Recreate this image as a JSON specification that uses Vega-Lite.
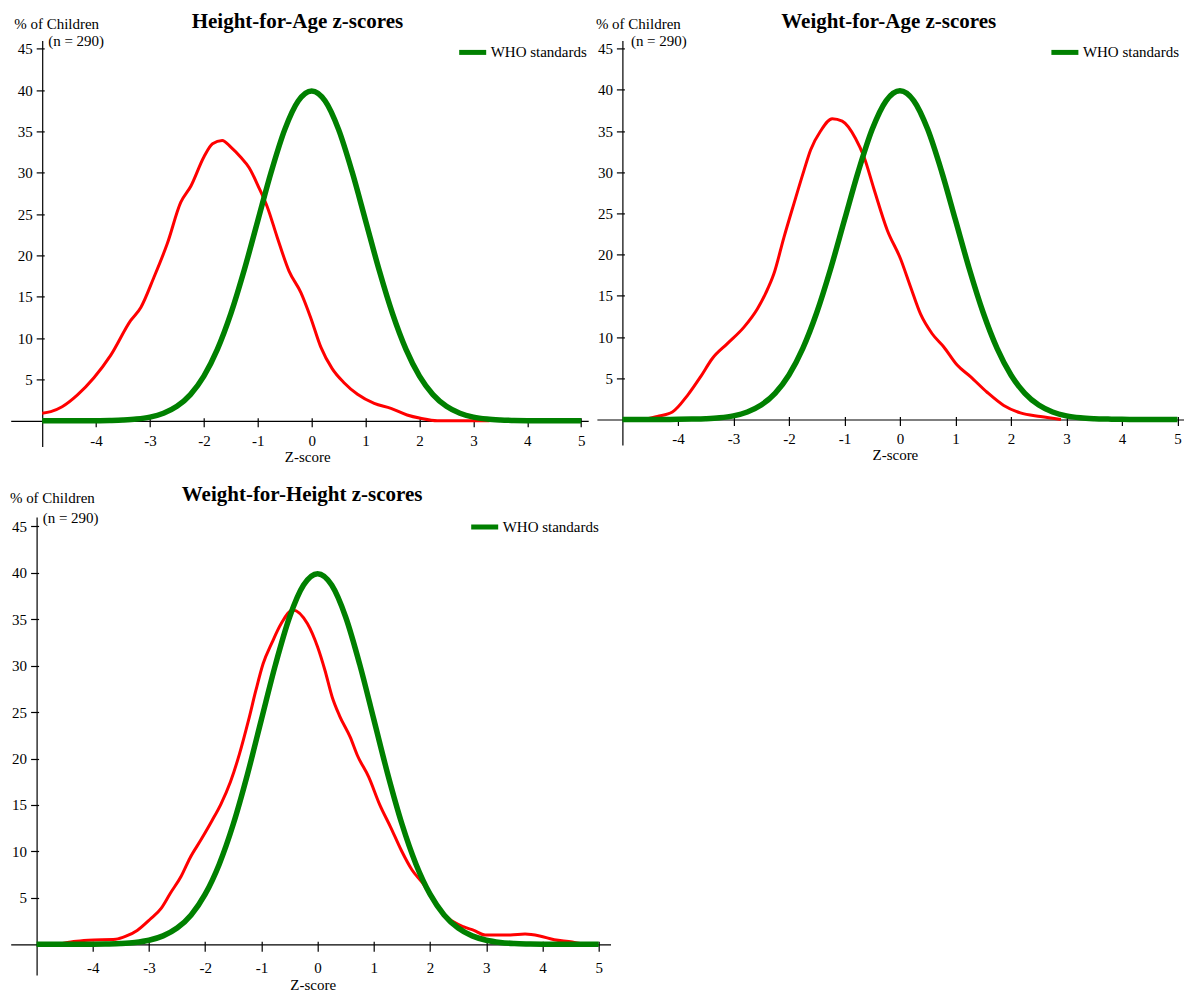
{
  "$schema": "https://vega.github.io/schema/vega-lite/v6.json",
  "background": "white",
  "padding": {"left": 8.7, "top": 10.4, "right": 0, "bottom": 0},
  "datasets": {
    "who": [
      {"z": -5, "pct": 0, "series": "WHO standards"},
      {"z": -4.75, "pct": 0, "series": "WHO standards"},
      {"z": -4.5, "pct": 0, "series": "WHO standards"},
      {"z": -4.25, "pct": 0, "series": "WHO standards"},
      {"z": -4, "pct": 0.01, "series": "WHO standards"},
      {"z": -3.75, "pct": 0.04, "series": "WHO standards"},
      {"z": -3.5, "pct": 0.09, "series": "WHO standards"},
      {"z": -3.25, "pct": 0.2, "series": "WHO standards"},
      {"z": -3, "pct": 0.44, "series": "WHO standards"},
      {"z": -2.75, "pct": 0.91, "series": "WHO standards"},
      {"z": -2.5, "pct": 1.75, "series": "WHO standards"},
      {"z": -2.25, "pct": 3.17, "series": "WHO standards"},
      {"z": -2, "pct": 5.4, "series": "WHO standards"},
      {"z": -1.75, "pct": 8.63, "series": "WHO standards"},
      {"z": -1.5, "pct": 12.95, "series": "WHO standards"},
      {"z": -1.25, "pct": 18.26, "series": "WHO standards"},
      {"z": -1, "pct": 24.2, "series": "WHO standards"},
      {"z": -0.75, "pct": 30.11, "series": "WHO standards"},
      {"z": -0.5, "pct": 35.21, "series": "WHO standards"},
      {"z": -0.25, "pct": 38.67, "series": "WHO standards"},
      {"z": 0, "pct": 39.89, "series": "WHO standards"},
      {"z": 0.25, "pct": 38.67, "series": "WHO standards"},
      {"z": 0.5, "pct": 35.21, "series": "WHO standards"},
      {"z": 0.75, "pct": 30.11, "series": "WHO standards"},
      {"z": 1, "pct": 24.2, "series": "WHO standards"},
      {"z": 1.25, "pct": 18.26, "series": "WHO standards"},
      {"z": 1.5, "pct": 12.95, "series": "WHO standards"},
      {"z": 1.75, "pct": 8.63, "series": "WHO standards"},
      {"z": 2, "pct": 5.4, "series": "WHO standards"},
      {"z": 2.25, "pct": 3.17, "series": "WHO standards"},
      {"z": 2.5, "pct": 1.75, "series": "WHO standards"},
      {"z": 2.75, "pct": 0.91, "series": "WHO standards"},
      {"z": 3, "pct": 0.44, "series": "WHO standards"},
      {"z": 3.25, "pct": 0.2, "series": "WHO standards"},
      {"z": 3.5, "pct": 0.09, "series": "WHO standards"},
      {"z": 3.75, "pct": 0.04, "series": "WHO standards"},
      {"z": 4, "pct": 0.01, "series": "WHO standards"},
      {"z": 4.25, "pct": 0, "series": "WHO standards"},
      {"z": 4.5, "pct": 0, "series": "WHO standards"},
      {"z": 4.75, "pct": 0, "series": "WHO standards"},
      {"z": 5, "pct": 0, "series": "WHO standards"}
    ],
    "hfa": [
      {"z": -5.0, "pct": 0.9}, {"z": -4.84, "pct": 1.1}, {"z": -4.63, "pct": 1.7},
      {"z": -4.35, "pct": 3.1}, {"z": -4.04, "pct": 5.2}, {"z": -3.73, "pct": 7.9},
      {"z": -3.36, "pct": 12.1}, {"z": -3.17, "pct": 13.7}, {"z": -2.93, "pct": 17.3},
      {"z": -2.68, "pct": 21.4}, {"z": -2.43, "pct": 26.4}, {"z": -2.24, "pct": 28.4},
      {"z": -2.0, "pct": 31.9}, {"z": -1.84, "pct": 33.5}, {"z": -1.66, "pct": 33.9},
      {"z": -1.5, "pct": 33.1}, {"z": -1.32, "pct": 31.9}, {"z": -1.16, "pct": 30.6},
      {"z": -0.98, "pct": 28.2}, {"z": -0.82, "pct": 25.8}, {"z": -0.64, "pct": 22.2},
      {"z": -0.42, "pct": 18.1}, {"z": -0.2, "pct": 15.5}, {"z": -0.02, "pct": 12.5},
      {"z": 0.17, "pct": 8.9}, {"z": 0.38, "pct": 6.3}, {"z": 0.6, "pct": 4.6},
      {"z": 0.85, "pct": 3.2}, {"z": 1.16, "pct": 2.1}, {"z": 1.47, "pct": 1.5},
      {"z": 1.77, "pct": 0.7}, {"z": 2.02, "pct": 0.3}, {"z": 2.33, "pct": 0},
      {"z": 3.3, "pct": 0}
    ],
    "wfa": [
      {"z": -4.6, "pct": 0}, {"z": -4.37, "pct": 0.36}, {"z": -4.1, "pct": 0.9},
      {"z": -3.83, "pct": 2.9}, {"z": -3.59, "pct": 5.2}, {"z": -3.38, "pct": 7.4},
      {"z": -3.11, "pct": 9.2}, {"z": -2.81, "pct": 11.2}, {"z": -2.57, "pct": 13.4},
      {"z": -2.42, "pct": 15.3}, {"z": -2.27, "pct": 17.7}, {"z": -2.09, "pct": 22.1},
      {"z": -1.91, "pct": 26.2}, {"z": -1.73, "pct": 30.2}, {"z": -1.61, "pct": 32.7},
      {"z": -1.43, "pct": 35.0}, {"z": -1.22, "pct": 36.5}, {"z": -1.04, "pct": 36.2},
      {"z": -0.8, "pct": 34.1}, {"z": -0.65, "pct": 31.9}, {"z": -0.47, "pct": 28.0},
      {"z": -0.23, "pct": 23.0}, {"z": 0.01, "pct": 19.5}, {"z": 0.19, "pct": 16.1},
      {"z": 0.37, "pct": 12.8}, {"z": 0.58, "pct": 10.4}, {"z": 0.79, "pct": 8.8},
      {"z": 1.03, "pct": 6.6}, {"z": 1.27, "pct": 5.2}, {"z": 1.57, "pct": 3.3},
      {"z": 1.87, "pct": 1.7}, {"z": 2.17, "pct": 0.8}, {"z": 2.53, "pct": 0.36},
      {"z": 2.9, "pct": 0}
    ],
    "wfh": [
      {"z": -4.6, "pct": 0}, {"z": -4.34, "pct": 0.3}, {"z": -4.08, "pct": 0.45},
      {"z": -3.59, "pct": 0.55}, {"z": -3.4, "pct": 0.9}, {"z": -3.21, "pct": 1.5},
      {"z": -2.98, "pct": 2.7}, {"z": -2.78, "pct": 3.9}, {"z": -2.62, "pct": 5.5},
      {"z": -2.43, "pct": 7.3}, {"z": -2.27, "pct": 9.3}, {"z": -2.07, "pct": 11.3},
      {"z": -1.88, "pct": 13.3}, {"z": -1.72, "pct": 15.1}, {"z": -1.55, "pct": 17.5},
      {"z": -1.39, "pct": 20.5}, {"z": -1.23, "pct": 24.1}, {"z": -1.1, "pct": 27.3},
      {"z": -0.97, "pct": 30.2}, {"z": -0.81, "pct": 32.5}, {"z": -0.65, "pct": 34.5},
      {"z": -0.44, "pct": 36.0}, {"z": -0.18, "pct": 34.5}, {"z": 0.0, "pct": 32.0},
      {"z": 0.13, "pct": 29.5}, {"z": 0.26, "pct": 26.6}, {"z": 0.39, "pct": 24.6},
      {"z": 0.58, "pct": 22.3}, {"z": 0.71, "pct": 20.3}, {"z": 0.91, "pct": 18.0},
      {"z": 1.1, "pct": 15.1}, {"z": 1.3, "pct": 12.6}, {"z": 1.49, "pct": 10.1},
      {"z": 1.68, "pct": 8.0}, {"z": 1.88, "pct": 6.5}, {"z": 2.07, "pct": 4.6},
      {"z": 2.33, "pct": 2.8}, {"z": 2.59, "pct": 1.9}, {"z": 2.78, "pct": 1.5},
      {"z": 2.98, "pct": 1.0}, {"z": 3.43, "pct": 1.0}, {"z": 3.69, "pct": 1.1},
      {"z": 3.95, "pct": 0.9}, {"z": 4.21, "pct": 0.5}, {"z": 4.53, "pct": 0.25},
      {"z": 4.73, "pct": 0}
    ]
  },
  "bounds": "flush",
  "align": "none",
  "columns": 2,
  "spacing": {"row": 70.6, "column": -13.8},
  "resolve": {"scale": {"x": "independent", "y": "independent", "color": "independent"}, "legend": {"color": "independent"}},
  "concat": [
    {
      "width": 577.5,
      "height": 406,
      "title": {"text": "Height-for-Age z-scores", "frame": "group", "anchor": "middle", "dx": -2, "dy": 19},
      "resolve": {"axis": {"x": "independent", "y": "independent"}},
      "layer": [
        {
          "data": {"name": "hfa"},
          "mark": {"type": "line", "color": "#FF0000", "strokeWidth": 3, "interpolate": "monotone"},
          "encoding": {
            "x": {"field": "z", "type": "quantitative", "scale": {"domain": [-5.584, 5.13], "nice": false, "zero": false},
              "axis": {"orient": "bottom", "offset": -25.6, "values": [-4, -3, -2, -1, 0, 1, 2, 3, 4, 5], "labelExpr": "datum.value + ''", "tickSize": 6, "labelPadding": 6.5, "title": "Z-score", "titleX": 296.5, "titleY": 40.5, "titleBaseline": "alphabetic", "titleAlign": "center"}},
            "y": {"field": "pct", "type": "quantitative", "scale": {"domain": [-3.1, 46], "nice": false, "zero": false},
              "axis": {"orient": "left", "offset": -31.5, "values": [5, 10, 15, 20, 25, 30, 35, 40, 45], "tickSize": 6, "labelPadding": 4, "title": "% of Children", "titleAngle": 0, "titleAlign": "left", "titleBaseline": "alphabetic", "titleX": -28.5, "titleY": -11.8}}
          }
        },
        {
          "data": {"name": "who"},
          "mark": {"type": "line", "strokeWidth": 5.5, "interpolate": "monotone"},
          "encoding": {
            "x": {"field": "z", "type": "quantitative", "scale": {"domain": [-5.584, 5.13], "nice": false, "zero": false},
              "axis": {"orient": "bottom", "offset": -25.6, "values": [-4, -3, -2, -1, 0, 1, 2, 3, 4, 5], "tickSize": -3, "labels": false, "domain": false, "title": null}},
            "y": {"field": "pct", "type": "quantitative", "scale": {"domain": [-3.1, 46], "nice": false, "zero": false},
              "axis": {"orient": "left", "offset": -31.5, "values": [5, 10, 15, 20, 25, 30, 35, 40, 45], "tickSize": -2, "labels": false, "domain": false, "title": "(n = 290)", "titleAngle": 0, "titleAlign": "left", "titleBaseline": "alphabetic", "titleX": 5.5, "titleY": 4.9}},
            "color": {"field": "series", "type": "nominal", "scale": {"domain": ["WHO standards"], "range": ["#008000"]},
              "legend": {"orient": "none", "legendX": 446, "legendY": -4, "title": null}}
          }
        }
      ]
    },
    {
      "width": 586.7,
      "height": 404.6,
      "title": {"text": "Weight-for-Age z-scores", "frame": "group", "anchor": "middle", "dx": -1.5, "dy": 19},
      "resolve": {"axis": {"x": "independent", "y": "independent"}},
      "layer": [
        {
          "data": {"name": "wfa"},
          "mark": {"type": "line", "color": "#FF0000", "strokeWidth": 3, "interpolate": "monotone"},
          "encoding": {
            "x": {"field": "z", "type": "quantitative", "scale": {"domain": [-5.46, 5.11], "nice": false, "zero": false},
              "axis": {"orient": "bottom", "offset": -25.5, "values": [-4, -3, -2, -1, 0, 1, 2, 3, 4, 5], "labelExpr": "datum.value + ''", "tickSize": 6, "labelPadding": 6.5, "title": "Z-score", "titleX": 298, "titleY": 40.5, "titleBaseline": "alphabetic", "titleAlign": "center"}},
            "y": {"field": "pct", "type": "quantitative", "scale": {"domain": [-3.1, 46], "nice": false, "zero": false},
              "axis": {"orient": "left", "offset": -25.5, "values": [5, 10, 15, 20, 25, 30, 35, 40, 45], "tickSize": 6, "labelPadding": 4, "title": "% of Children", "titleAngle": 0, "titleAlign": "left", "titleBaseline": "alphabetic", "titleX": -27, "titleY": -11.8}}
          }
        },
        {
          "data": {"name": "who"},
          "mark": {"type": "line", "strokeWidth": 5.5, "interpolate": "monotone"},
          "encoding": {
            "x": {"field": "z", "type": "quantitative", "scale": {"domain": [-5.46, 5.11], "nice": false, "zero": false},
              "axis": {"orient": "bottom", "offset": -25.5, "values": [-4, -3, -2, -1, 0, 1, 2, 3, 4, 5], "tickSize": -3, "labels": false, "domain": false, "title": null}},
            "y": {"field": "pct", "type": "quantitative", "scale": {"domain": [-3.1, 46], "nice": false, "zero": false},
              "axis": {"orient": "left", "offset": -25.5, "values": [5, 10, 15, 20, 25, 30, 35, 40, 45], "tickSize": -2, "labels": false, "domain": false, "title": "(n = 290)", "titleAngle": 0, "titleAlign": "left", "titleBaseline": "alphabetic", "titleX": 8, "titleY": 4.9}},
            "color": {"field": "series", "type": "nominal", "scale": {"domain": ["WHO standards"], "range": ["#008000"]},
              "legend": {"orient": "none", "legendX": 452, "legendY": -4, "title": null}}
          }
        }
      ]
    },
    {
      "width": 599.8,
      "height": 458,
      "title": {"text": "Weight-for-Height z-scores", "frame": "group", "anchor": "middle", "dx": -8.5, "dy": 19},
      "resolve": {"axis": {"x": "independent", "y": "independent"}},
      "layer": [
        {
          "data": {"name": "wfh"},
          "mark": {"type": "line", "color": "#FF0000", "strokeWidth": 3, "interpolate": "monotone"},
          "encoding": {
            "x": {"field": "z", "type": "quantitative", "scale": {"domain": [-5.46, 5.21], "nice": false, "zero": false},
              "axis": {"orient": "bottom", "offset": -30.7, "values": [-4, -3, -2, -1, 0, 1, 2, 3, 4, 5], "labelExpr": "datum.value + ''", "tickSize": 7, "labelPadding": 9, "title": "Z-score", "titleX": 302, "titleY": 45, "titleBaseline": "alphabetic", "titleAlign": "center"}},
            "y": {"field": "pct", "type": "quantitative", "scale": {"domain": [-3.3, 46], "nice": false, "zero": false},
              "axis": {"orient": "left", "offset": -25.9, "values": [5, 10, 15, 20, 25, 30, 35, 40, 45], "tickSize": 6, "labelPadding": 4, "title": "% of Children", "titleAngle": 0, "titleAlign": "left", "titleBaseline": "alphabetic", "titleX": -27.2, "titleY": -14.7}}
          }
        },
        {
          "data": {"name": "who"},
          "mark": {"type": "line", "strokeWidth": 5.5, "interpolate": "monotone"},
          "encoding": {
            "x": {"field": "z", "type": "quantitative", "scale": {"domain": [-5.46, 5.21], "nice": false, "zero": false},
              "axis": {"orient": "bottom", "offset": -30.7, "values": [-4, -3, -2, -1, 0, 1, 2, 3, 4, 5], "tickSize": -3, "labels": false, "domain": false, "title": null}},
            "y": {"field": "pct", "type": "quantitative", "scale": {"domain": [-3.3, 46], "nice": false, "zero": false},
              "axis": {"orient": "left", "offset": -25.9, "values": [5, 10, 15, 20, 25, 30, 35, 40, 45], "tickSize": -2, "labels": false, "domain": false, "title": "(n = 290)", "titleAngle": 0, "titleAlign": "left", "titleBaseline": "alphabetic", "titleX": 5.6, "titleY": 5.3}},
            "color": {"field": "series", "type": "nominal", "scale": {"domain": ["WHO standards"], "range": ["#008000"]},
              "legend": {"orient": "none", "legendX": 458, "legendY": -6, "title": null}}
          }
        }
      ]
    }
  ],
  "config": {
    "view": {"stroke": null},
    "axis": {"grid": false, "domainColor": "black", "tickColor": "black", "labelColor": "black", "titleColor": "black", "labelFont": "Liberation Serif", "titleFont": "Liberation Serif", "labelFontSize": 15, "titleFontSize": 15, "titleFontWeight": "normal", "labelFlush": false, "labelOverlap": false, "domainWidth": 1.2, "tickWidth": 1.2},
    "legend": {"symbolType": "stroke", "symbolStrokeWidth": 5, "symbolSize": 729, "labelFont": "Liberation Serif", "labelFontSize": 15, "labelColor": "black", "labelOffset": 2, "padding": 0},
    "title": {"font": "Liberation Serif", "fontSize": 21, "fontWeight": "bold", "color": "black"}
  }
}
